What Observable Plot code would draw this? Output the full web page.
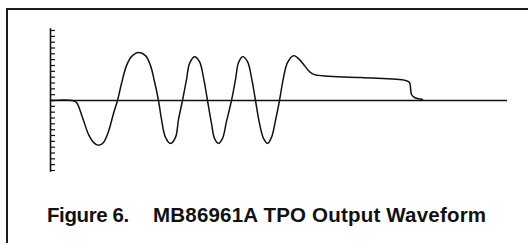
<!DOCTYPE html>
<html>
<head>
<meta charset="utf-8">
<script src="https://cdn.jsdelivr.net/npm/d3@7"></script>
<script src="https://cdn.jsdelivr.net/npm/@observablehq/plot@0.6"></script>
<style>
  html, body { margin: 0; padding: 0; background: #fff; width: 528px; height: 243px; overflow: hidden; position: relative; }
  #frame { position: absolute; left: 6px; top: 8px; width: 700px; height: 400px; border: 2px solid #1c1c1c; box-sizing: border-box; }
  #chart { position: absolute; left: 0; top: 0; }
  #caption { position: absolute; left: 47px; top: 205px; font-family: "Liberation Sans", Arial, sans-serif; font-weight: bold; font-size: 20.5px; line-height: 1; color: #111; white-space: pre; }
  #caption .num { letter-spacing: -0.4px; }
  #caption .title { position: absolute; left: 106px; top: 0; letter-spacing: 0.2px; }
</style>
</head>
<body>
<div id="frame"></div>
<div id="chart"></div>
<div id="caption"><span class="num"></span><span class="title"></span></div>
<script>
// Waveform samples (time in arbitrary units, amplitude in tick units)
const time = [0, 22, 26, 32, 38, 43, 48, 53, 58, 63, 67, 71, 76, 81, 88, 95, 100, 104, 108, 111, 115, 120, 125, 128, 132, 136, 139, 144, 149, 153, 157, 161, 164, 168, 172, 176, 181, 185, 188, 192, 197, 201, 205, 209, 213, 217, 221, 225, 229, 233, 237, 243, 248, 254, 259, 264, 310, 355, 359, 360, 361, 364, 372];
const amplitude = [0, 0, -0.34, -2.91, -5.81, -7.18, -7.69, -7.18, -5.30, -2.22, 0, 2.91, 5.98, 7.52, 8.21, 7.69, 5.98, 3.25, 0, -3.25, -6.32, -7.35, -6.32, -3.25, 0, 3.59, 6.32, 7.52, 6.67, 3.93, 0, -3.93, -6.50, -7.35, -6.50, -3.59, 0, 3.59, 6.50, 7.52, 6.67, 3.93, 0, -3.93, -6.50, -7.35, -6.32, -3.42, 0, 3.93, 6.50, 7.69, 7.18, 5.98, 4.96, 4.44, 3.93, 3.42, 3.08, 2.22, 1.03, 0.51, 0.17];
const yTicks = d3.range(-12, 13);
const timeExtent = [0, 457];
const captionNumber = "Figure 6.";
const captionTitle = "MB86961A TPO Output Waveform";

const data = time.map((t, i) => ({t, v: amplitude[i]}));

const chart = Plot.plot({
  width: 528,
  height: 180,
  marginLeft: 50,
  marginRight: 21,
  marginTop: 30,
  marginBottom: 10,
  x: {domain: timeExtent, axis: null},
  y: {domain: [-12, 12], axis: null},
  marks: [
    Plot.axisY(yTicks, {anchor: "left", tickSize: 5, dx: 5, tickFormat: () => "", label: null, stroke: "#111", strokeWidth: 1.2}),
    Plot.ruleX([0], {y1: -12.3, y2: 12.3, stroke: "#111", strokeWidth: 1.6}),
    Plot.ruleY([0], {stroke: "#111", strokeWidth: 1.4}),
    Plot.line(data, {x: "t", y: "v", curve: "catmull-rom", stroke: "#111", strokeWidth: 1.5})
  ]
});
document.getElementById("chart").appendChild(chart);
document.querySelector("#caption .num").textContent = captionNumber;
document.querySelector("#caption .title").textContent = captionTitle;
</script>
</body>
</html>
